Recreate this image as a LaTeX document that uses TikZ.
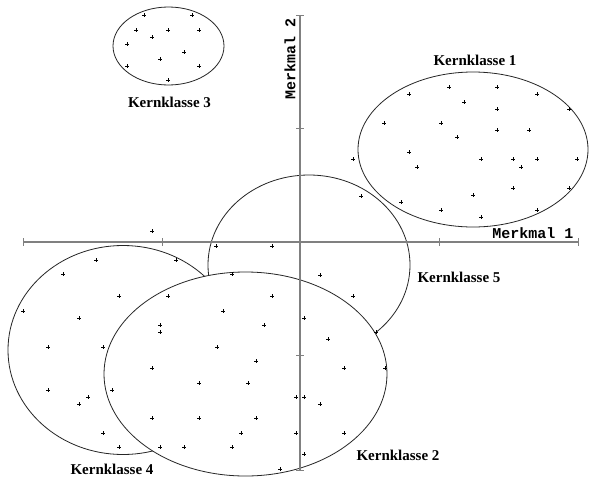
\documentclass[tikz,border=0pt]{standalone}
\usepackage{fontspec}
\setmainfont{Liberation Serif}
\newfontfamily\axisfont{Liberation Mono}
\begin{document}
\begin{tikzpicture}[x=1pt,y=-1pt,
  cluster/.style={draw=black!85, line width=0.8pt},
  axisline/.style={draw=black!50, line width=1.1pt},
  klabel/.style={font=\fontsize{15}{15}\selectfont\bfseries, inner sep=0pt},
  mlabel/.style={font=\axisfont\fontsize{15}{15}\selectfont\bfseries, inner sep=0pt},
  dotmark/.style={draw=black, line width=0.7pt}
]
\useasboundingbox (0,0) rectangle (589,477);
\fill[white] (0,0) rectangle (589,477);

% clusters 4 and 5 (partly hidden behind cluster 2)
\draw[cluster] (123,350) ellipse [x radius=115, y radius=104.5];
\draw[cluster] (309,265) ellipse [x radius=101, y radius=90];
\filldraw[cluster, fill=white] (245.5,374) ellipse [x radius=141.5, y radius=102];

% axes
\draw[axisline] (23,242) -- (578,242);
\draw[axisline] (300,15) -- (300,470);
\foreach \tx in {23,162,300,439,578}
  \draw[axisline, line width=0.8pt] (\tx,238) -- (\tx,246);
\foreach \ty in {15,128,242,355,470}
  \draw[axisline, line width=0.8pt] (296,\ty) -- (304,\ty);

% clusters 3 and 1
\draw[cluster] (168.5,46) ellipse [x radius=55.5, y radius=39];
\draw[cluster] (473,149.5) ellipse [x radius=115, y radius=77.5];

% data points
\foreach \x/\y in {144/15,192/15,136/30,168/30,199/30,152/37,127/44,184/52,160/59,127/66,199/66,168/80,
  449/87,497/87,409/94,537/94,464/102,497/109,569/109,384/123,441/123,497/130,529/130,457/137,
  409/152,353/159,481/159,513/159,537/159,577/159,417/167,521/167,513/188,569/188,473/195,
  361/196,401/202,441/210,537/210,481/217,
  152/231,216/246,272/246,232/274,320/275,
  96/260,176/260,63/274,119/296,168/296,272/296,23/311,79/318,223/311,160/325,160/332,264/325,
  48/347,103/347,217/347,256/361,152/368,199/383,248/383,48/390,112/390,88/397,79/404,296/397,
  152/418,199/418,256/418,103/433,241/433,296/433,119/447,160/447,184/447,232/447,280/469,
  353/296,304/318,328/339,376/332,344/368,385/368,304/397,320/404,344/433,304/454}
  \draw[dotmark] (\x,\y) ++(-1.8,0) -- ++(3.6,0) (\x,\y) ++(0,-1.8) -- ++(0,3.6);

% labels
\node[klabel] (k1) at (475,60) {Kernklasse 1};
\node[klabel] (k2) at (398,455) {Kernklasse 2};
\node[klabel] (k3) at (169.5,102) {Kernklasse 3};
\node[klabel] (k4) at (112,469) {Kernklasse 4};
\node[klabel] (k5) at (459,277) {Kernklasse 5};
\node[mlabel] (m1) at (533,233) {Merkmal 1};
\node[mlabel, rotate=90] (m2) at (290,59) {Merkmal 2};
\end{tikzpicture}
\end{document}
